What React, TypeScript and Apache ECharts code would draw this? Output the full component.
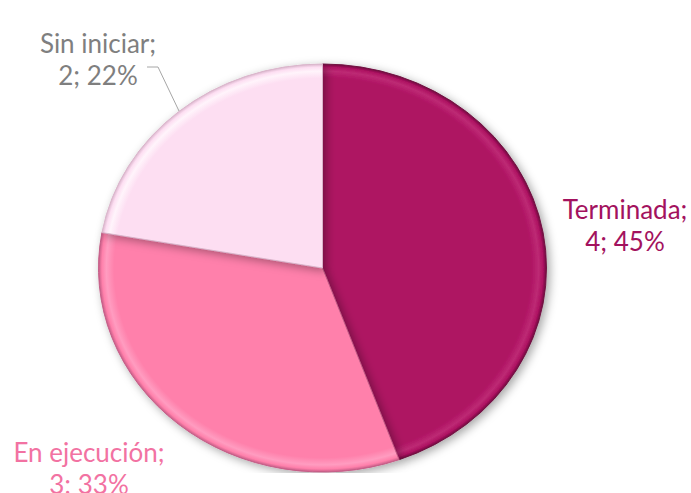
import React, { useEffect, useRef } from "react";
import * as echarts from "echarts";

// ---- data ----
const categories = ["Terminada", "En ejecución", "Sin iniciar"];
const values = [4, 3, 2];
const sliceColors = ["#AE1262", "#FF80AB", "#FDDEF2"];
const rimLight = ["#BD2A74", "#FF9CC0", "#FFF4FB"];
const rimDark = ["#6E0A3E", "#C45C86", "#D9B4CB"];
const labelColors = ["#A3125E", "#F272A2", "#7F7F7F"];

// ---- layout ----
const W = 691;
const H = 493;
const CX = 322.5;
const CY = 268;
const RX = 224;
const RY = 204;
const labelPos: [number, number][] = [
  [625, 225],
  [89, 468],
  [98, 59],
];
const leaderPoints: number[][] = [
  [179, 111],
  [158, 67],
  [147, 67],
];

function pieData() {
  return categories.map((name, i) => ({
    name,
    value: values[i],
    itemStyle: {
      color: {
        type: "radial",
        x: CX,
        y: CY,
        r: RX,
        global: true,
        colorStops: [
          { offset: 0, color: sliceColors[i] },
          { offset: 0.93, color: sliceColors[i] },
          { offset: 0.965, color: rimLight[i] },
          { offset: 0.985, color: sliceColors[i] },
          { offset: 1, color: rimDark[i] },
        ],
      },
      borderColor: rimDark[i],
      borderWidth: 1,
      shadowBlur: 10,
      shadowColor: "rgba(0,0,0,0.35)",
      shadowOffsetX: 3,
      shadowOffsetY: 3,
    },
  }));
}

function labelData() {
  return categories.map((name, i) => ({
    name,
    value: values[i],
    label: { color: labelColors[i] },
    labelLine: { show: i === 2 },
  }));
}

const PieLayer: React.FC = () => {
  const ref = useRef<HTMLDivElement>(null);
  useEffect(() => {
    if (!ref.current) return;
    const chart = echarts.init(ref.current, null, { renderer: "svg" });
    chart.setOption({
      animation: false,
      series: [
        {
          type: "pie",
          center: [CX, CY],
          radius: RX,
          startAngle: 90,
          clockwise: true,
          silent: true,
          label: { show: false },
          labelLine: { show: false },
          emphasis: { disabled: true },
          data: pieData(),
        },
      ],
    });
    return () => chart.dispose();
  }, []);
  return (
    <div
      ref={ref}
      style={{
        position: "absolute",
        left: 0,
        top: 0,
        width: W,
        height: H,
        transform: `scaleY(${RY / RX})`,
        transformOrigin: `0px ${CY}px`,
      }}
    />
  );
};

const LabelLayer: React.FC = () => {
  const ref = useRef<HTMLDivElement>(null);
  useEffect(() => {
    if (!ref.current) return;
    const chart = echarts.init(ref.current, null, { renderer: "svg" });
    chart.setOption({
      animation: false,
      series: [
        {
          type: "pie",
          center: [CX, CY],
          radius: RX,
          startAngle: 90,
          clockwise: true,
          silent: true,
          percentPrecision: 0,
          avoidLabelOverlap: false,
          itemStyle: { color: "rgba(0,0,0,0)" },
          emphasis: { disabled: true },
          label: {
            show: true,
            position: "outside",
            fontFamily: "Lato, 'Open Sans', sans-serif",
            fontSize: 26,
            lineHeight: 32,
            align: "center",
            formatter: (p: any) => `${p.name};\n${p.value}; ${p.percent}%`,
          },
          labelLine: {
            show: true,
            length: 10,
            length2: 10,
            lineStyle: { color: "#A6A6A6", width: 1 },
          },
          labelLayout: (params: any) => {
            const i = params.dataIndex;
            const out: any = {
              x: labelPos[i][0],
              y: labelPos[i][1],
              align: "center",
              verticalAlign: "middle",
            };
            if (i === 2) out.labelLinePoints = leaderPoints;
            return out;
          },
          data: labelData(),
        },
      ],
    });
    return () => chart.dispose();
  }, []);
  return (
    <div
      ref={ref}
      style={{ position: "absolute", left: 0, top: 0, width: W, height: H }}
    />
  );
};

export default function App() {
  return (
    <div
      style={{
        position: "fixed",
        left: 0,
        top: 0,
        width: W,
        height: H,
        background: "#ffffff",
        overflow: "hidden",
      }}
    >
      <PieLayer />
      <LabelLayer />
    </div>
  );
}
